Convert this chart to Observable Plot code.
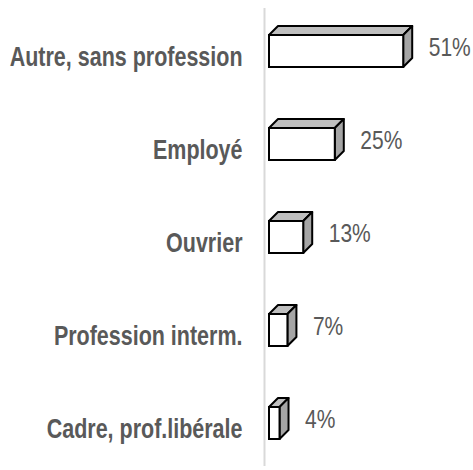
<!DOCTYPE html>
<html>
<head>
<meta charset="utf-8">
<script src="https://cdn.jsdelivr.net/npm/d3@7"></script>
<script src="https://cdn.jsdelivr.net/npm/@observablehq/plot@0.6"></script>
<style>
  html, body { margin: 0; padding: 0; background: #fff; }
</style>
</head>
<body>
<div id="chart"></div>
<script>
const categories = ["Autre, sans profession", "Employé", "Ouvrier", "Profession interm.", "Cadre, prof.libérale"];
const values = [51, 25, 13, 7, 4];
const valueLabels = ["51%", "25%", "13%", "7%", "4%"];

const data = categories.map((c, i) => ({category: c, value: values[i], label: valueLabels[i]}));

const DEPTH_X = 9, DEPTH_Y = 9;

function box3d(index, scales) {
  const x = scales.x, y = scales.y;
  const bw = y.bandwidth ? y.bandwidth() : 32;
  const g = d3.create("svg:g").attr("aria-label", "bar depth");
  data.forEach(d => {
    const x0 = x(0), x1 = x(d.value), yt = y(d.category), yb = yt + bw;
    g.append("polygon")
      .attr("points", [[x0, yt], [x0 + DEPTH_X, yt - DEPTH_Y], [x1 + DEPTH_X, yt - DEPTH_Y], [x1, yt]].map(p => p.join(",")).join(" "))
      .attr("fill", "#bfbfbf").attr("stroke", "#000").attr("stroke-width", 2).attr("stroke-linejoin", "round");
    g.append("polygon")
      .attr("points", [[x1, yt], [x1 + DEPTH_X, yt - DEPTH_Y], [x1 + DEPTH_X, yb - DEPTH_Y], [x1, yb]].map(p => p.join(",")).join(" "))
      .attr("fill", "#a5a5a5").attr("stroke", "#000").attr("stroke-width", 2).attr("stroke-linejoin", "round");
  });
  return g.node();
}

const chart = Plot.plot({
  width: 473,
  height: 470,
  marginLeft: 269,
  marginRight: 4,
  marginTop: 4,
  marginBottom: 0,
  style: {background: "#fff"},
  x: {domain: [0, 76], axis: null},
  y: {domain: categories, paddingInner: 0.657, paddingOuter: 0.3285, axis: null},
  marks: [
    Plot.ruleX([0], {stroke: "#d9d9d9", strokeWidth: 2, dx: -5, insetTop: 4, insetBottom: 4}),
    box3d,
    Plot.barX(data, {x: "value", y: "category", fill: "#fff", stroke: "#000", strokeWidth: 2}),
    Plot.axisY({tickSize: 0, tickPadding: 27, label: null, fontSize: 21.5, fontWeight: "bold",
      fontFamily: "'Liberation Sans', Arial, sans-serif", color: "#595959", dy: 5}),
    Plot.text(data, {x: "value", y: "category", text: "label", textAnchor: "start", dx: 25, dy: -4,
      fontSize: 21, fontFamily: "'Liberation Sans', Arial, sans-serif", fill: "#595959"})
  ]
});

// Stretch the texts vertically, as in the reference (its letters are taller than wide)
chart.querySelectorAll("text").forEach(el => {
  const isAxis = !!el.closest("g[aria-label*='axis']");
  const k = isAxis ? 1.32 : 1.22;
  const t = el.getAttribute("transform");
  if (t) {
    el.setAttribute("transform", t + ` scale(1,${k})`);
  } else {
    const x = parseFloat(el.getAttribute("x")) || 0;
    const y = parseFloat(el.getAttribute("y")) || 0;
    el.removeAttribute("x"); el.removeAttribute("y");
    el.setAttribute("transform", `translate(${x},${y}) scale(1,${k})`);
  }
});

document.getElementById("chart").appendChild(chart);
</script>
</body>
</html>
